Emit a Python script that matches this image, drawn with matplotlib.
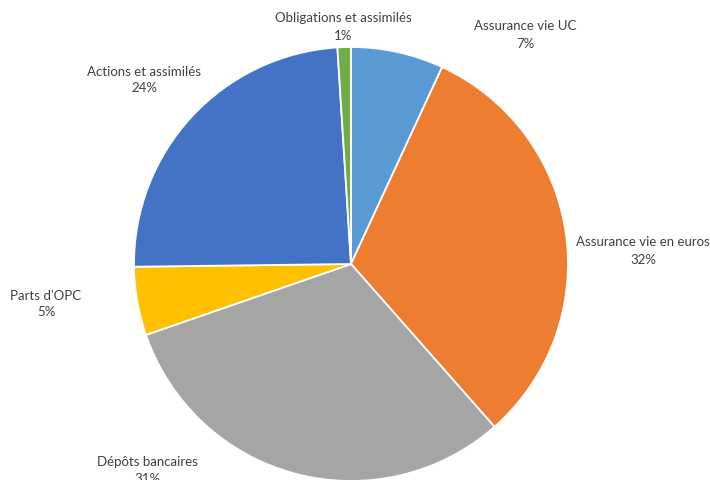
import matplotlib
matplotlib.use("Agg")
import matplotlib.pyplot as plt

categories = ["Assurance vie UC", "Assurance vie en euros", "Dépôts bancaires",
              "Parts d'OPC", "Actions et assimilés", "Obligations et assimilés"]
values = [6.9, 31.6, 31.2, 5.1, 24.2, 1.0]
colors = ["#5B9BD5", "#ED7D31", "#A5A5A5", "#FFC000", "#4472C4", "#70AD47"]

# label positions (pixel coordinates in figure space, layout only)
label_pos = [(525, 35), (643, 251), (147, 471), (46, 304), (144, 80), (343, 27)]

W, H = 710, 481
fig = plt.figure(figsize=(W / 100, H / 100), dpi=100)
ax = fig.add_axes([0, 0, 1, 1])

cx, cy, r = 351, H - 265, 217
ax.pie(values, colors=colors, startangle=90, counterclock=False,
       center=(cx, cy), radius=r, frame=True,
       wedgeprops=dict(edgecolor="white", linewidth=1.3))
ax.set_xlim(0, W)
ax.set_ylim(0, H)
ax.set_aspect("equal")
ax.axis("off")

total = sum(values)
for cat, v, (px, py) in zip(categories, values, label_pos):
    ax.text(px, H - py, f"{cat}\n{round(v / total * 100):.0f}%", ha="center", va="center",
            fontsize=9.5, color="#404040", family=["Lato", "DejaVu Sans"], linespacing=1.5)

fig.savefig("out.png", dpi=100)
